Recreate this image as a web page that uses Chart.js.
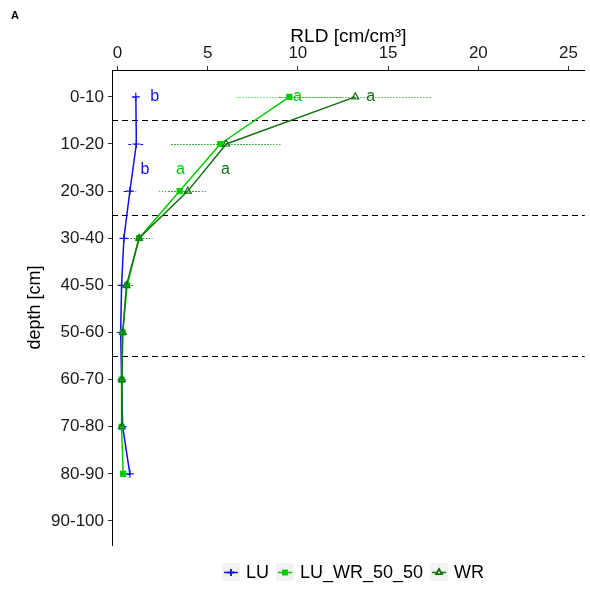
<!DOCTYPE html>
<html>
<head>
<meta charset="utf-8">
<script src="https://cdn.jsdelivr.net/npm/chart.js@4.4.0/dist/chart.umd.min.js"></script>
<style>
html,body{margin:0;padding:0;background:#fff;}
#wrap{width:590px;height:590px;position:relative;}
</style>
</head>
<body>
<div id="wrap"><canvas id="c" width="590" height="590"></canvas></div>
<script>
// ---- data ----
const depthLabels = ['0-10','10-20','20-30','30-40','40-50','50-60','60-70','70-80','80-90','90-100'];
const xTicks = [0, 5, 10, 15, 20, 25];
const seriesNames = ['LU', 'LU_WR_50_50', 'WR'];
const luMean  = [1.02, 1.05, 0.69, 0.36, 0.23, 0.18, 0.23, 0.29, 0.69];
const luErr   = [0.15, 0.45, 0.35, 0.25, 0.2, 0.15, 0.1, 0.15, 0.15];
const mixMean = [9.53, 5.70, 3.45, 1.20, 0.54, 0.29, 0.23, 0.23, 0.32];
const mixErr  = [2.93, 2.70, 1.14, 0.80, 0.40, 0.25, 0.10, 0.10, 0.10];
const wrMean  = [13.18, 6.03, 3.90, 1.20, 0.50, 0.30, 0.25, 0.25];
const wrErr   = [4.20, 3.04, 1.06, 0.60, 0.40, 0.20, 0.10, 0.10];
const layerBreaks = [0.5, 2.5, 5.5];
const letterText   = ['b', 'a', 'a', 'b', 'a', 'a'];
const letterSeries = [0, 1, 2, 0, 1, 2];
const letterX      = [2.07, 9.97, 14.04, 1.52, 3.49, 5.99];
const letterY      = [0, 0, 0, 1.55, 1.55, 1.55];

// ---- styles ----
const colors = ['#1010e8', '#00cc00', '#137313'];
const pointStyles = ['cross', 'rect', 'triangle'];
const FONT = "'Liberation Sans', Arial, sans-serif";

function toPts(arr){ return arr.map((v,i)=>({x:v, y:i})); }
const means = [luMean, mixMean, wrMean];
const errs = [luErr, mixErr, wrErr];

const datasets = seriesNames.map((n, k) => ({
  label: n,
  data: toPts(means[k]),
  borderColor: colors[k],
  backgroundColor: k === 2 ? 'rgba(0,0,0,0)' : colors[k],
  pointBorderColor: colors[k],
  pointBackgroundColor: k === 1 ? colors[k] : 'rgba(0,0,0,0)',
  pointStyle: pointStyles[k],
  pointRadius: k === 1 ? 3.5 : 4,
  pointBorderWidth: 1.2,
  borderWidth: 1.5,
  tension: 0,
  order: 3 - k
}));

const extras = {
  id: 'extras',
  beforeDatasetsDraw(chart){
    const {ctx, chartArea, scales:{x, y}} = chart;
    ctx.save();
    // dashed layer lines
    ctx.strokeStyle = '#000';
    ctx.lineWidth = 1;
    ctx.setLineDash([6, 4]);
    layerBreaks.forEach(b => {
      const py = Math.round(y.getPixelForValue(b)) + 0.5;
      ctx.beginPath(); ctx.moveTo(chartArea.left, py); ctx.lineTo(chartArea.right, py); ctx.stroke();
    });
    // error bars
    ctx.lineWidth = 1;
    means.forEach((m, k) => {
      ctx.strokeStyle = colors[k];
      ctx.setLineDash(k === 0 ? [3, 3] : [1, 2]);
      m.forEach((v, i) => {
        const e = errs[k][i];
        const py = Math.round(y.getPixelForValue(i)) + 0.5;
        ctx.beginPath();
        ctx.moveTo(x.getPixelForValue(v - e), py);
        ctx.lineTo(x.getPixelForValue(v + e), py);
        ctx.stroke();
      });
    });
    ctx.restore();
  },
  afterDraw(chart){
    const {ctx, chartArea, scales:{x, y}} = chart;
    ctx.save();
    // significance letters
    ctx.font = '16px ' + FONT;
    ctx.textAlign = 'center';
    ctx.textBaseline = 'middle';
    letterText.forEach((t, i) => {
      ctx.fillStyle = colors[letterSeries[i]];
      ctx.fillText(t, x.getPixelForValue(letterX[i]), y.getPixelForValue(letterY[i]));
    });
    // panel tag
    ctx.fillStyle = '#000';
    ctx.font = 'bold 11px ' + FONT;
    ctx.textAlign = 'left';
    ctx.textBaseline = 'alphabetic';
    ctx.fillText('A', 11, 19);
    // legend
    ctx.font = '18px ' + FONT;
    const key = 18, gapText = 6, gapItem = 7;
    const widths = seriesNames.map(n => ctx.measureText(n).width);
    const total = widths.reduce((s, w) => s + key + gapText + w, 0) + gapItem * (seriesNames.length - 1);
    let cx = 353 - total / 2;
    const cy = 572;
    seriesNames.forEach((n, k) => {
      ctx.fillStyle = '#f2f2f2';
      ctx.fillRect(cx, cy - key / 2, key, key);
      ctx.strokeStyle = colors[k];
      ctx.lineWidth = 1.5;
      ctx.setLineDash([]);
      ctx.beginPath(); ctx.moveTo(cx + 2, cy + 0.5); ctx.lineTo(cx + key - 2, cy + 0.5); ctx.stroke();
      Chart.helpers.drawPoint(ctx, {
        pointStyle: pointStyles[k], radius: k === 1 ? 3 : 3.5, borderWidth: 1.2, rotation: 0
      }, cx + key / 2, cy + 0.5);
      ctx.fillStyle = k === 1 ? colors[k] : 'rgba(0,0,0,0)';
      ctx.strokeStyle = colors[k];
      ctx.beginPath();
      Chart.helpers.drawPoint(ctx, {
        pointStyle: pointStyles[k], radius: k === 1 ? 3 : 3.5, borderWidth: 1.2, rotation: 0
      }, cx + key / 2, cy + 0.5);
      ctx.fillStyle = '#000';
      ctx.textAlign = 'left';
      ctx.textBaseline = 'middle';
      ctx.fillText(n, cx + key + gapText, cy + 1);
      cx += key + gapText + widths[k] + gapItem;
    });
    ctx.restore();
  }
};

new Chart(document.getElementById('c'), {
  type: 'line',
  data: { datasets },
  options: {
    responsive: false,
    animation: false,
    devicePixelRatio: 1,
    layout: { padding: { left: 0, top: 0, right: 4, bottom: 45 } },
    plugins: { legend: { display: false }, tooltip: { enabled: false } },
    scales: {
      x: {
        type: 'linear',
        position: 'top',
        min: -0.3,
        max: 25.9,
        afterBuildTicks: s => { s.ticks = xTicks.map(v => ({ value: v })); },
        afterFit: s => { s.height = 70; },
        ticks: { color: '#1a1a1a', font: { size: 17, family: FONT }, padding: 2, maxRotation: 0 },
        grid: { drawOnChartArea: false, drawTicks: true, tickLength: 4, color: '#333' },
        border: { display: true, color: '#000', width: 1 },
        title: { display: true, text: 'RLD [cm/cm³]', color: '#000', font: { size: 19, family: FONT }, padding: { top: 25, bottom: 0 } }
      },
      y: {
        type: 'linear',
        reverse: true,
        min: -0.57,
        max: 9.51,
        afterBuildTicks: s => { s.ticks = depthLabels.map((_, i) => ({ value: i })); },
        afterFit: s => { s.width = 112; },
        ticks: { color: '#1a1a1a', font: { size: 17, family: FONT }, padding: 4, callback: v => depthLabels[v] },
        grid: { drawOnChartArea: false, drawTicks: true, tickLength: 4, color: '#333' },
        border: { display: true, color: '#000', width: 1 },
        title: { display: true, text: 'depth [cm]', color: '#000', font: { size: 18, family: FONT }, padding: { top: 24, bottom: 0 } }
      }
    }
  },
  plugins: [extras]
});
</script>
</body>
</html>
